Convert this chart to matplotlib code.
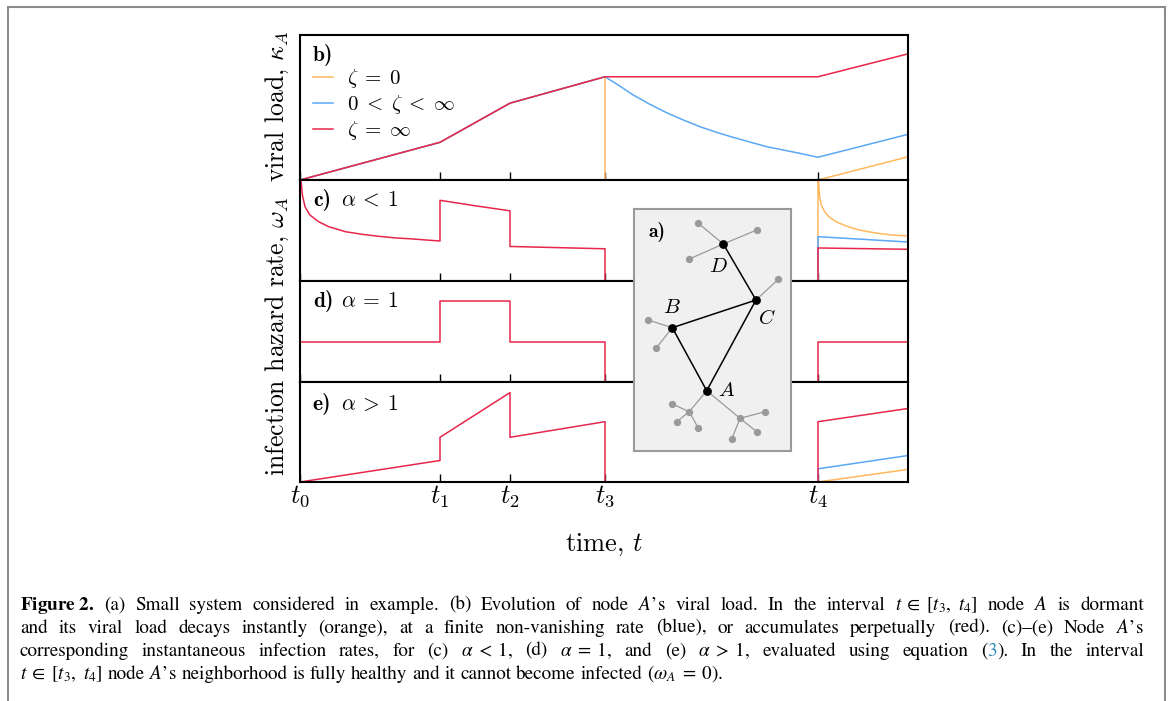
import re
import matplotlib
matplotlib.use('Agg')
import matplotlib.pyplot as plt
from matplotlib.patches import Rectangle

plt.rcParams['mathtext.fontset'] = 'cm'
plt.rcParams['font.family'] = 'cmr10'
plt.rcParams['axes.unicode_minus'] = False

# event times t0..t4 and end of the window
t_ticks = [0.0, 1.40, 2.10, 3.05, 5.18]
t_end = 6.08
tick_labels = ['$t_0$', '$t_1$', '$t_2$', '$t_3$', '$t_4$']

# b) viral load kappa_A
b_red_t = [0.0, 1.40, 2.10, 3.05, 5.18, 6.08]
b_red_v = [0.0, 0.26, 0.53, 0.712, 0.712, 0.87]
b_blue_t = [0.0, 1.40, 2.10, 3.05, 3.167, 3.333, 3.499, 3.666, 3.832, 3.998,
            4.164, 4.332, 4.498, 4.665, 4.831, 4.997, 5.18, 6.08]
b_blue_v = [0.0, 0.26, 0.53, 0.712, 0.662, 0.586, 0.522, 0.464, 0.414, 0.368,
            0.329, 0.294, 0.262, 0.230, 0.207, 0.184, 0.157, 0.315]
b_orange_t = [0.0, 1.40, 2.10, 3.05, 3.05, 5.18, 6.08]
b_orange_v = [0.0, 0.26, 0.53, 0.712, 0.0, 0.0, 0.16]

# c) alpha < 1
c_red_t = [0.01, 0.024, 0.05, 0.10, 0.186, 0.287, 0.455, 0.624, 0.792, 0.962, 1.13, 1.30, 1.40,
           1.40, 1.75, 2.10, 2.10, 3.05, 3.05, 5.18, 5.18, 6.08]
c_red_v = [1.0, 0.851, 0.736, 0.653, 0.587, 0.538, 0.488, 0.462, 0.442, 0.426, 0.416, 0.403, 0.396,
           0.799, 0.745, 0.695, 0.342, 0.319, 0.0, 0.0, 0.327, 0.314]
c_blue_t = [5.18, 5.18, 6.08]
c_blue_v = [0.0, 0.439, 0.386]
c_orange_t = [5.18, 5.18, 5.186, 5.196, 5.213, 5.246, 5.295, 5.361, 5.460, 5.592, 5.757, 5.922, 6.08]
c_orange_v = [0.0, 1.05, 0.993, 0.835, 0.752, 0.686, 0.630, 0.587, 0.545, 0.505, 0.475, 0.455, 0.446]

# d) alpha = 1
d_red_t = [0.0, 1.40, 1.40, 2.10, 2.10, 3.05, 3.05, 5.18, 5.18, 6.08]
d_red_v = [0.396, 0.396, 0.805, 0.805, 0.396, 0.396, 0.0, 0.0, 0.396, 0.396]

# e) alpha > 1
e_red_t = [0.0, 1.40, 1.40, 2.10, 2.10, 3.05, 3.05, 5.18, 5.18, 6.08]
e_red_v = [0.0, 0.215, 0.447, 0.894, 0.447, 0.603, 0.0, 0.0, 0.603, 0.735]
e_blue_t = [5.18, 5.18, 6.08]
e_blue_v = [0.0, 0.132, 0.265]
e_orange_t = [5.18, 6.08]
e_orange_v = [0.0, 0.126]

# inset network (layout units inside the grey box)
hub_names = ['A', 'B', 'C', 'D']
hub_x = [72.7, 38.3, 122.0, 89.3]
hub_y = [181.7, 118.7, 91.0, 35.0]
hub_edges = [(3, 2), (2, 1), (1, 0), (0, 2)]
label_x = [92.7, 37.7, 132.7, 84.0]
label_y = [182.0, 99.0, 109.0, 57.7]
leaf_x = [64.3, 122.7, 55.3, 144.3, 14.0, 22.0, 55.3, 38.3, 42.7, 64.3, 106.0, 131.0, 122.7, 97.7]
leaf_y = [14.3, 21.0, 50.0, 70.3, 111.0, 139.3, 202.7, 195.0, 212.7, 219.3, 209.3, 202.7, 222.7, 230.3]
leaf_edges = [('D', 0), ('D', 1), ('D', 2), ('C', 3), ('B', 4), ('B', 5), ('A', 6), (6, 7), (6, 8),
              (6, 9), ('A', 10), (10, 11), (10, 12), (10, 13)]

caption = [
    r'$\mathbf{Figure\ 2.}$ (a) Small system considered in example. (b) Evolution of node $A$’s '
    r'viral load. In the interval $t\;\in\;[t_3,\ t_4]$ node $A$ is dormant',
    r'and its viral load decays instantly (orange), at a finite non-vanishing rate (blue), '
    r'or accumulates perpetually (red). (c)–(e) Node $A$’s',
    r'corresponding instantaneous infection rates, for (c) $\alpha\;<\;1$, (d) $\alpha\;=\;1$, '
    r'and (e) $\alpha\;>\;1$, evaluated using equation (3). In the interval',
    r'$t\;\in\;[t_3,\ t_4]$ node $A$’s neighborhood is fully healthy and it cannot become '
    r'infected ($\omega_A\;=\;0$).',
]

red = '#e8264c'
blue = '#5aa8f5'
orange = '#ffb85e'
link = '#2a8ab8'

W, H = 1169, 701
fig = plt.figure(figsize=(W / 100, H / 100), dpi=100)

left, right = 300 / W, 908 / W
edges_px = [35, 180, 281, 382, 482]
axes = []
for i in range(4):
    top = 1 - edges_px[i] / H
    bot = 1 - edges_px[i + 1] / H
    ax = fig.add_axes([left, bot, right - left, top - bot])
    ax.set_xlim(0, t_end)
    ax.set_ylim(0, 1)
    ax.set_yticks([])
    ax.set_xticks(t_ticks)
    ax.tick_params(axis='x', direction='in', length=6, width=1, labelbottom=False)
    for s in ax.spines.values():
        s.set_linewidth(1.5)
    axes.append(ax)
ax_b, ax_c, ax_d, ax_e = axes

lw = 1.1
ax_b.plot(b_orange_t, b_orange_v, color=orange, lw=lw, label=r'$\zeta\;=\;0$')
ax_b.plot(b_blue_t, b_blue_v, color=blue, lw=lw, label=r'$0\;<\;\zeta\;<\;\infty$')
ax_b.plot(b_red_t, b_red_v, color=red, lw=lw, label=r'$\zeta\;=\;\infty$')
ax_b.legend(loc='upper left', bbox_to_anchor=(0.022, 0.78), frameon=False, fontsize=15,
            handlelength=0.95, handletextpad=0.65, labelspacing=0.15, borderpad=0, borderaxespad=0)
ax_b.text(0.021, 0.86, 'b)', family='cmb10', transform=ax_b.transAxes, fontsize=15.5, va='center')

ax_c.plot(c_orange_t, c_orange_v, color=orange, lw=lw)
ax_c.plot(c_blue_t, c_blue_v, color=blue, lw=lw)
ax_c.plot(c_red_t, c_red_v, color=red, lw=lw)
ax_d.plot(d_red_t, d_red_v, color=red, lw=lw)
ax_e.plot(e_orange_t, e_orange_v, color=orange, lw=lw)
ax_e.plot(e_blue_t, e_blue_v, color=blue, lw=lw)
ax_e.plot(e_red_t, e_red_v, color=red, lw=lw)

for ax, tag, cond, yy in [(ax_c, 'c)', r'$\alpha\:<\:1$', 0.80), (ax_d, 'd)', r'$\alpha\:=\:1$', 0.80),
                          (ax_e, 'e)', r'$\alpha\:>\:1$', 0.78)]:
    ax.text(0.021, yy, tag, family='cmb10', transform=ax.transAxes, fontsize=15.5, va='center')
    ax.text(0.068, yy, cond, transform=ax.transAxes, fontsize=15.5, va='center')

ax_e.set_xticklabels(tick_labels)
ax_e.tick_params(axis='x', labelbottom=True, pad=1, labelsize=19)
ax_e.set_xlabel(r'time, $t$', fontsize=19, labelpad=16)

fig.text(277 / W, 1 - 106 / H, r'viral load, $\kappa_A$', rotation=90, fontsize=18.5,
         ha='center', va='center')
fig.text(277 / W, 1 - 336 / H, r'infection hazard rate, $\omega_A$', rotation=90, fontsize=18.5,
         ha='center', va='center')

# inset a)
ax_in = fig.add_axes([634 / W, 1 - 451 / H, 157 / W, 242 / H], zorder=5)
ax_in.set_facecolor('#f0f0f0')
ax_in.set_xlim(0, 157)
ax_in.set_ylim(242, 0)
ax_in.set_xticks([])
ax_in.set_yticks([])
for s in ax_in.spines.values():
    s.set_color('#9a9a9a')
    s.set_linewidth(1.5)
for a, b in leaf_edges:
    if isinstance(a, str):
        k = hub_names.index(a)
        x0, y0 = hub_x[k], hub_y[k]
    else:
        x0, y0 = leaf_x[a], leaf_y[a]
    ax_in.plot([x0, leaf_x[b]], [y0, leaf_y[b]], color='#9a9a9a', lw=0.9, zorder=1)
for a, b in hub_edges:
    ax_in.plot([hub_x[a], hub_x[b]], [hub_y[a], hub_y[b]], color='black', lw=1.1, zorder=2)
ax_in.scatter(leaf_x, leaf_y, s=28, color='#9a9a9a', zorder=3, linewidths=0)
ax_in.scatter(hub_x, hub_y, s=40, color='black', zorder=4, linewidths=0)
for name, x, y in zip(hub_names, label_x, label_y):
    ax_in.text(x, y, '$' + name + '$', fontsize=15, ha='center', va='center')
ax_in.text(22.7, 22.7, 'a)', family='cmb10', fontsize=14, ha='center', va='center')

# outer frame
fig.add_artist(Rectangle((8 / W, -0.05), (1165 - 8) / W, 1.05 - 7 / H, transform=fig.transFigure,
                         fill=False, edgecolor='#8c8c8c', lw=1.5))

# caption, justified like the journal layout
cap_kw = dict(fontsize=13.8, family='STIXGeneral', math_fontfamily='stix', va='baseline', ha='left')
renderer = fig.canvas.get_renderer()
cap_left, cap_right = 20, 1144


def text_width(s):
    t = fig.text(0, 0, s, **cap_kw)
    w = t.get_window_extent(renderer).width
    t.remove()
    return w


def place_word(word, x, y):
    # the equation reference is a blue link
    parts = [(word, 'black')]
    if word == '(3).':
        parts = [('(', 'black'), ('3', link), (').', 'black')]
    for txt, col in parts:
        t = fig.text(x / W, 1 - y / H, txt, color=col, **cap_kw)
        x += t.get_window_extent(renderer).width


space_w = text_width('a a') - text_width('aa')

for i, line in enumerate(caption):
    y = 610 + 23 * i
    words = re.findall(r'(?:\$[^$]*\$|[^\s$])+', line)
    widths = [text_width(w) for w in words]
    if i < len(caption) - 1:
        gap = (cap_right - cap_left - sum(widths)) / (len(words) - 1)
    else:
        gap = space_w
    x = cap_left
    for w, wd in zip(words, widths):
        place_word(w, x, y)
        x += wd + gap

fig.savefig('out.png', dpi=100)
